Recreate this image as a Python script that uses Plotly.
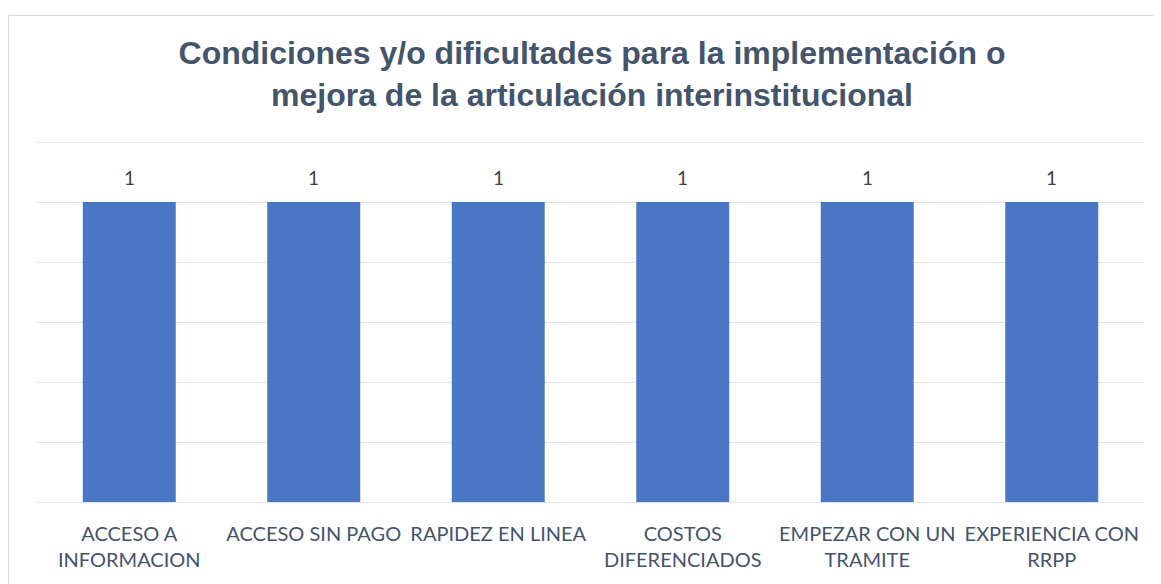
import plotly.graph_objects as go

categories = ["ACCESO A<br>INFORMACION", "ACCESO SIN PAGO", "RAPIDEZ EN LINEA",
              "COSTOS<br>DIFERENCIADOS", "EMPEZAR CON UN<br>TRAMITE", "EXPERIENCIA CON<br>RRPP"]
values = [1, 1, 1, 1, 1, 1]
title = "<b>Condiciones y/o dificultades para la implementación o<br>mejora de la articulación interinstitucional</b>"

W, H = 1153, 576
L, R, T, B = 29, 17, 125, 82
pw, ph = W - L - R, H - T - B

LABEL_FONT = "Lato, 'Open Sans', sans-serif"

fig = go.Figure()
fig.add_trace(go.Bar(
    x=categories, y=values, width=0.504,
    marker=dict(color="#4a76c6", line=dict(width=0)),
    hoverinfo="x+y",
))
for c, v in zip(categories, values):
    fig.add_annotation(x=c, y=v, text=str(v), showarrow=False, yanchor="middle", yshift=25,
                       font=dict(family=LABEL_FONT, size=19, color="#404040"))

fig.add_shape(type="rect", xref="paper", yref="paper",
              x0=(0.5 - L) / pw, x1=1.1, y0=-0.5, y1=(T + ph - 7.5) / ph,
              line=dict(color="#d9d9d9", width=1), fillcolor="rgba(0,0,0,0)", layer="below")

fig.update_layout(
    width=W, height=H,
    margin=dict(l=L, r=R, t=T, b=B),
    paper_bgcolor="white", plot_bgcolor="white",
    showlegend=False,
    title=dict(text=title, x=584 / W, xanchor="center", y=1 - 56 / H, yanchor="middle",
               font=dict(family="Liberation Sans, Arial, sans-serif", size=32, color="#44546A")),
    bargap=0.5,
)
fig.update_yaxes(range=[0, 1.23], tickvals=[0.2, 0.4, 0.6, 0.8, 1.0, 1.2],
                 showticklabels=False, showgrid=True,
                 gridcolor="#e1e4ea", gridwidth=1.3, zeroline=False, showline=False, fixedrange=True)
fig.update_xaxes(showline=True, linecolor="#e1e4ea", linewidth=1.3, ticks="",
                 tickfont=dict(family=LABEL_FONT, size=20, color="#44546A"),
                 ticklabelstandoff=14,
                 tickangle=0, fixedrange=True)

fig.write_html("out.html")
